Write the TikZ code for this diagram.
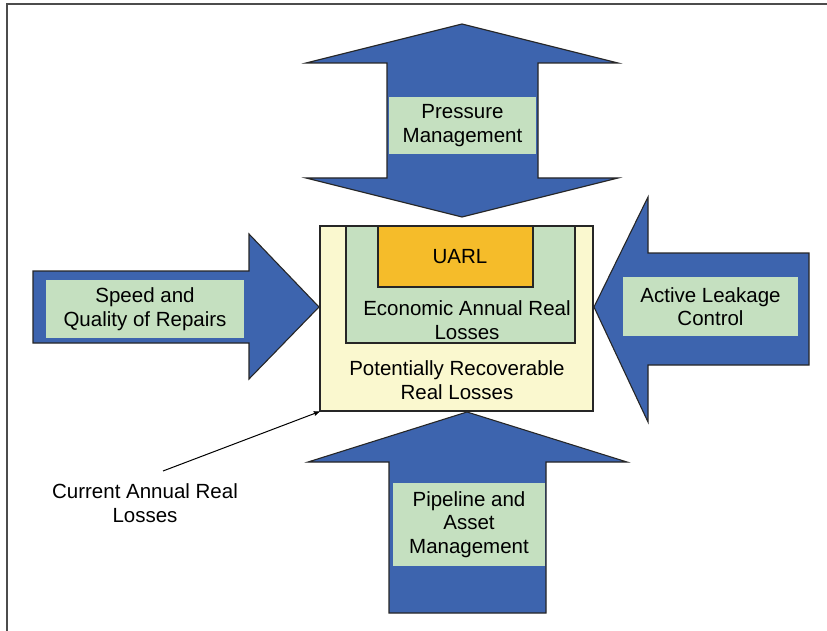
\documentclass[tikz,border=0pt]{standalone}
\usepackage{fontspec}
\setmainfont{Liberation Sans}
\usepackage{tikz}
\usetikzlibrary{ arrows, calc, positioning }
\definecolor{arrowblue}{RGB}{61,100,174}
\definecolor{labelgreen}{RGB}{197,224,192}
\definecolor{boxyellow}{RGB}{250,248,207}
\definecolor{uarlorange}{RGB}{245,188,42}
\tikzset{
>=stealth', % arrow heads of the callout
bigarrow/.style={fill=arrowblue, draw=black!85, line width=1.1pt, line join=miter}, % blue block arrows
label/.style={fill=labelgreen, align=center, inner sep=0pt}, % green text panels
lossbox/.style={draw=black!85, line width=1.3pt, inner sep=0pt}, % nested loss boxes
every node/.style={font=\fontsize{20.5}{23.5}\selectfont},
}

\begin{document}
\begin{tikzpicture}[x=1pt, y=-1pt]
  \useasboundingbox (0,0) rectangle (827,631);
  % frame
  \draw[black!70, line width=1.5pt] (827,4) -- (7,4) -- (7,631);

  % nested boxes
  \node[lossbox, fill=boxyellow, minimum width=273pt, minimum height=185pt] (prrl) at (456.5,318.5) {};
  \node[lossbox, fill=labelgreen, minimum width=229pt, minimum height=117pt] (eal) at (460.5,284.5) {};
  \node[lossbox, fill=uarlorange, minimum width=155pt, minimum height=61pt] (uarl) at (455.5,256.5) {};
  \node at (460,257) {UARL};
  \node[align=center] (ealtext) at (467,320) {Economic Annual Real\\Losses};
  \node[align=center] (prrltext) at (457,380) {Potentially Recoverable\\Real Losses};

  % block arrows
  \draw[bigarrow] (462,24) -- (618,63) -- (538,63) -- (538,178) -- (618,178) -- (462,217)
    -- (306,178) -- (387,178) -- (387,63) -- (306,63) -- cycle;
  \draw[bigarrow] (33,271) -- (249,271) -- (249,234) -- (319,307) -- (249,379) -- (249,343)
    -- (33,343) -- cycle;
  \draw[bigarrow] (594,307) -- (648,197) -- (648,253) -- (809,253) -- (809,365) -- (648,365)
    -- (648,422) -- cycle;
  \draw[bigarrow] (467,412) -- (627,462) -- (546,462) -- (546,613) -- (389,613) -- (389,462)
    -- (308,462) -- cycle;

  % labels on the arrows
  \node[label, minimum width=147pt, minimum height=57pt] (pm) at (462.5,125.5) {Pressure\\Management};
  \node[label, minimum width=198pt, minimum height=58pt] (sqr) at (145,309) {Speed and\\Quality of Repairs};
  \node[label, minimum width=175pt, minimum height=59pt] (alc) at (710.5,306.5) {Active Leakage\\Control};
  \node[label, minimum width=152pt, minimum height=83pt] (pam) at (469,524.5) {Pipeline and\\Asset\\Management};

  % callout
  \node[align=center] (carl) at (145,503) {Current Annual Real\\Losses};
  \coordinate (carlend) at (163,471);
  \draw[->, line width=1pt] (carlend) -- (prrl.south west);
\end{tikzpicture}
\end{document}
